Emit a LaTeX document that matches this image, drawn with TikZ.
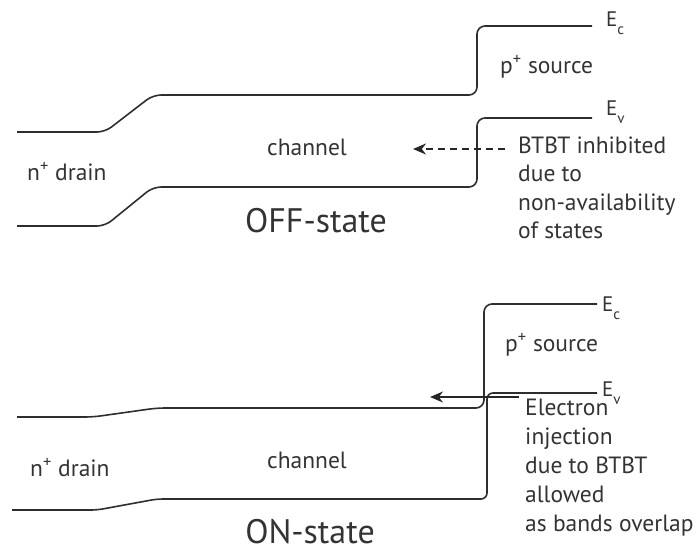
\documentclass[tikz,border=0pt]{standalone}
\usepackage{fontspec}
\setmainfont{PT Sans}
\usetikzlibrary{arrows.meta}
\newcommand{\Elabel}[1]{E\raisebox{-8pt}{\fontsize{15}{15}\selectfont #1}}
\begin{document}
\begin{tikzpicture}[x=1pt,y=-1pt,
  band/.style={line width=1.6pt, draw=black!82, rounded corners=8pt},
  lbl/.style={inner sep=0pt, font=\fontsize{23.5}{28.5}\selectfont, text=black!80},
  elbl/.style={inner sep=0pt, font=\fontsize{21}{21}\selectfont, text=black!80, anchor=base west},
  note/.style={lbl, align=left, anchor=west},
  big/.style={inner sep=0pt, font=\fontsize{34}{34}\selectfont, text=black!80, anchor=base},
  btbt/.style={line width=1.5pt, draw=black!85, -{Stealth[length=13pt,width=11pt]}}]
\useasboundingbox (0,0) rectangle (698,554);
% ---------------- OFF-state ----------------
\draw[band] (17,132) -- (105,132) -- (153,95) -- (477,95) -- (477,26) -- (592,26);
\draw[band] (17,226) -- (105,226) -- (153,187) -- (477,187) -- (477,118) -- (592,118);
\node[elbl] (ecT) at (606,27) {\Elabel{c}};
\node[elbl] (evT) at (606,115) {\Elabel{v}};
\node[lbl, anchor=west] (psT) at (500,67) {p\textsuperscript{+} source};
\node[lbl] (chT) at (307,147) {channel};
\node[lbl, anchor=west] (ndT) at (27,172) {n\textsuperscript{+} drain};
\node[big] (offT) at (316,232) {OFF-state};
\node[note] (noteT) at (518,188) {BTBT inhibited\\due to\\non-availability\\of states};
\coordinate (aT1) at (505,149);
\coordinate (aT2) at (413,149);
\draw[btbt, dash pattern=on 7pt off 5pt] (aT1) -- (aT2);
% ---------------- ON-state ----------------
\draw[band] (17,417) -- (93,417) -- (157,408) -- (484,408) -- (484,304) -- (597,304);
\draw[band, rounded corners=6pt] (12,510) -- (97,510) -- (157,499) -- (487,499) -- (487,393) -- (597,393);
\node[elbl] (ecB) at (602,311) {\Elabel{c}};
\node[elbl] (evB) at (602,396) {\Elabel{v}};
\node[lbl, anchor=west] (psB) at (505,345) {p\textsuperscript{+} source};
\node[lbl] (chB) at (307,460) {channel};
\node[lbl, anchor=west] (ndB) at (30,468) {n\textsuperscript{+} drain};
\node[big] (onB) at (310,543) {ON-state};
\node[note, font=\fontsize{23.5}{29}\selectfont] (noteB) at (525,468) {Electron\\injection\\due to BTBT\\allowed\\as bands overlap};
\coordinate (aB1) at (519,397);
\coordinate (aB2) at (430,397);
\draw[btbt] (aB1) -- (aB2);
\end{tikzpicture}
\end{document}
